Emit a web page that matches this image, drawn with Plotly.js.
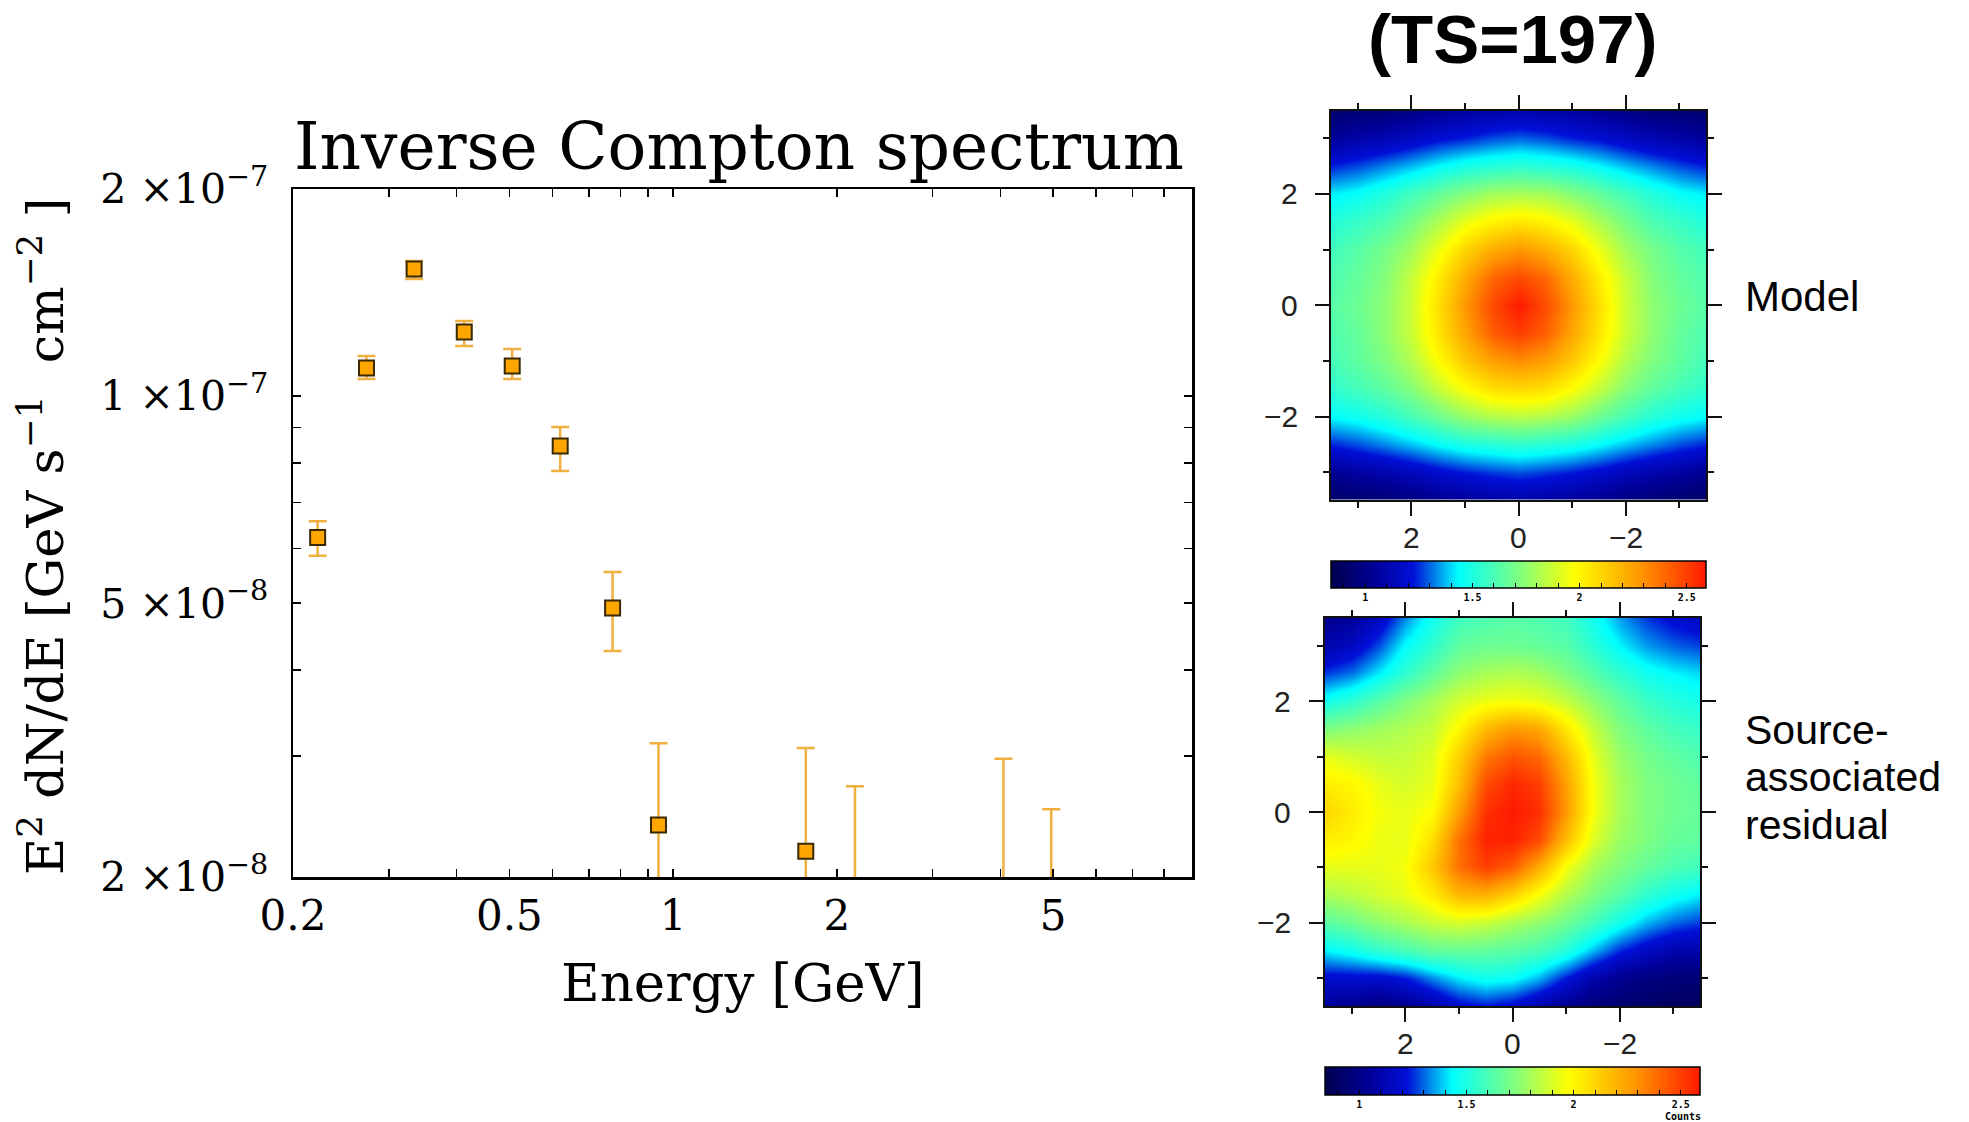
<!DOCTYPE html>
<html>
<head>
<meta charset="utf-8">
<script src="https://cdn.plot.ly/plotly-3.0.1.min.js"></script>
<style>html,body{margin:0;padding:0;background:#fff;}#chart{width:1969px;height:1122px;}</style>
</head>
<body>
<div id="chart"></div>
<script>
// ---- Spectrum data (GeV, GeV s^-1 cm^-2) ----
const energy    = [0.222, 0.273, 0.334, 0.413, 0.506, 0.62, 0.774, 0.94, 1.754];
const flux      = [6.23e-8, 1.099e-7, 1.53e-7, 1.239e-7, 1.106e-7, 8.46e-8, 4.92e-8, 2.38e-8, 2.18e-8];
const fluxHigh  = [6.58e-8, 1.144e-7, 1.572e-7, 1.286e-7, 1.171e-7, 9.02e-8, 5.55e-8, 3.13e-8, 3.08e-8];
const fluxLow   = [5.86e-8, 1.059e-7, 1.48e-7, 1.183e-7, 1.059e-7, 7.78e-8, 4.26e-8, 0, 0];
const ulEnergy  = [2.16, 4.05, 4.96];
const ulFlux    = [2.71e-8, 2.97e-8, 2.51e-8];

const xTickVals = [0.2,0.3,0.4,0.5,0.6,0.7,0.8,0.9,1,2,3,4,5,6,7,8,9];
const xTickText = ['0.2','','','0.5','','','','','1','2','','','5','','','',''];
const yTickVals = [2e-8,3e-8,4e-8,5e-8,6e-8,7e-8,8e-8,9e-8,1e-7,2e-7];
const yTickText = ['2 \u00d710<sup>\u22128</sup>','','','5 \u00d710<sup>\u22128</sup>','','','','','1 \u00d710<sup>\u22127</sup>','2 \u00d710<sup>\u22127</sup>'];

// ---- Maps (offsets in degrees, counts) ----
const mapX = [3.5,3.0,2.5,2.0,1.5,1.0,0.5,0,-0.5,-1.0,-1.5,-2.0,-2.5,-3.0,-3.5];
const mapY = [3.5,3.0,2.5,2.0,1.5,1.0,0.5,0,-0.5,-1.0,-1.5,-2.0,-2.5,-3.0,-3.5];
const modelZ = [
 [0.93,0.95,0.96,1.00,1.03,1.07,1.09,1.10,1.09,1.07,1.03,1.00,0.96,0.95,0.93],
 [1.05,1.09,1.12,1.16,1.21,1.24,1.28,1.30,1.28,1.24,1.21,1.16,1.12,1.09,1.05],
 [1.24,1.28,1.33,1.38,1.44,1.49,1.52,1.54,1.52,1.49,1.44,1.38,1.33,1.28,1.24],
 [1.42,1.45,1.51,1.58,1.66,1.73,1.79,1.80,1.79,1.73,1.66,1.58,1.51,1.45,1.42],
 [1.51,1.56,1.61,1.70,1.81,1.93,2.01,2.05,2.01,1.93,1.81,1.70,1.61,1.56,1.51],
 [1.58,1.63,1.70,1.79,1.94,2.10,2.22,2.28,2.22,2.10,1.94,1.79,1.70,1.63,1.58],
 [1.61,1.66,1.73,1.86,2.03,2.22,2.40,2.47,2.40,2.22,2.03,1.86,1.73,1.66,1.61],
 [1.63,1.68,1.75,1.87,2.07,2.28,2.47,2.59,2.47,2.28,2.07,1.87,1.75,1.68,1.63],
 [1.61,1.66,1.75,1.87,2.05,2.24,2.42,2.50,2.42,2.24,2.05,1.87,1.75,1.66,1.61],
 [1.59,1.65,1.72,1.82,1.98,2.14,2.26,2.31,2.26,2.14,1.98,1.82,1.72,1.65,1.59],
 [1.54,1.59,1.65,1.73,1.86,1.98,2.07,2.10,2.07,1.98,1.86,1.73,1.65,1.59,1.54],
 [1.44,1.47,1.52,1.59,1.68,1.77,1.82,1.84,1.82,1.77,1.68,1.59,1.52,1.47,1.44],
 [1.24,1.28,1.33,1.38,1.44,1.49,1.52,1.54,1.52,1.49,1.44,1.38,1.33,1.28,1.24],
 [1.03,1.07,1.10,1.14,1.19,1.23,1.26,1.28,1.26,1.23,1.19,1.14,1.10,1.07,1.03],
 [0.91,0.93,0.95,0.98,1.02,1.05,1.07,1.09,1.07,1.05,1.02,0.98,0.95,0.93,0.91]
];
const residualZ = [
 [1.02,1.05,1.16,1.33,1.47,1.58,1.61,1.63,1.61,1.58,1.47,1.35,1.26,1.20,1.16],
 [1.10,1.16,1.28,1.44,1.54,1.65,1.68,1.68,1.66,1.63,1.53,1.43,1.35,1.30,1.27],
 [1.26,1.31,1.42,1.54,1.65,1.75,1.80,1.82,1.79,1.72,1.63,1.54,1.47,1.43,1.40],
 [1.47,1.54,1.63,1.72,1.80,1.89,1.94,1.96,1.93,1.86,1.75,1.65,1.57,1.52,1.48],
 [1.72,1.75,1.79,1.82,1.86,2.00,2.19,2.28,2.24,2.05,1.86,1.72,1.65,1.59,1.56],
 [1.93,1.89,1.86,1.86,1.91,2.12,2.36,2.45,2.40,2.19,1.93,1.77,1.70,1.65,1.61],
 [2.03,2.00,1.93,1.89,1.93,2.17,2.47,2.56,2.50,2.26,1.96,1.80,1.72,1.68,1.65],
 [2.10,2.03,1.96,1.93,1.98,2.26,2.54,2.59,2.54,2.28,1.96,1.80,1.72,1.68,1.66],
 [2.03,2.00,1.94,1.93,2.07,2.38,2.57,2.57,2.47,2.17,1.91,1.77,1.72,1.66,1.65],
 [1.93,1.93,1.93,1.96,2.14,2.38,2.50,2.42,2.22,1.96,1.80,1.72,1.66,1.61,1.58],
 [1.80,1.84,1.89,1.93,2.03,2.19,2.21,2.10,1.96,1.82,1.72,1.63,1.54,1.47,1.42],
 [1.63,1.68,1.75,1.80,1.86,1.89,1.86,1.80,1.75,1.68,1.58,1.47,1.37,1.30,1.26],
 [1.42,1.47,1.54,1.59,1.65,1.66,1.65,1.63,1.59,1.51,1.37,1.24,1.16,1.10,1.09],
 [1.19,1.19,1.19,1.23,1.33,1.42,1.47,1.45,1.37,1.23,1.10,1.02,0.98,0.96,0.95],
 [1.05,1.02,0.98,1.02,1.09,1.19,1.23,1.19,1.10,1.02,0.96,0.93,0.91,0.89,0.88]
];
const countsMin = 0.84, countsMax = 2.59;
const cbTickVals = [0.9,1.0,1.1,1.2,1.3,1.4,1.5,1.6,1.7,1.8,1.9,2.0,2.1,2.2,2.3,2.4,2.5];
const cbTickText = ['','1','','','','','1.5','','','','','2','','','','','2.5'];
const mapTickVals = [-2,0,2];
const mapTickText = ['\u22122','0','2'];
const mapMinorVals = [-3,-1,1,3];

const jet = [[0,'#00004f'],[0.12,'#00009a'],[0.22,'#0010d8'],[0.34,'#00ffff'],[0.5,'#7dff82'],[0.65,'#ffff00'],[0.82,'#ff9a00'],[1,'#ff1a00']];

const errPlus  = fluxHigh.map((h,i)=>h-flux[i]);
const errMinus = fluxLow.map((l,i)=>flux[i]-l);

function cb(xc, ytop, thick){
  return {orientation:'h', x:xc, xanchor:'center', y:ytop, yanchor:'top',
   len:375, lenmode:'pixels', thickness:thick, thicknessmode:'pixels', xpad:0, ypad:0,
   outlinewidth:1.5, outlinecolor:'#000', tickmode:'array', tickvals:cbTickVals, ticktext:cbTickText,
   ticks:'inside', ticklen:5, tickcolor:'#000', tickwidth:1,
   tickfont:{size:10, family:'DejaVu Sans Mono', color:'#000', weight:'bold'}};
}

const traces = [
 {type:'scatter', mode:'markers', x:ulEnergy, y:ulFlux, xaxis:'x', yaxis:'y',
  marker:{opacity:0, size:4},
  error_y:{type:'data', symmetric:false, array:ulFlux.map(()=>0), arrayminus:ulFlux, color:'#f0b040', thickness:2.5, width:9},
  hoverinfo:'skip'},
 {type:'scatter', mode:'markers', x:energy, y:flux, xaxis:'x', yaxis:'y',
  marker:{symbol:'square', size:15, color:'#ffa500', line:{color:'#3a2800', width:2}},
  error_y:{type:'data', symmetric:false, array:errPlus, arrayminus:errMinus, color:'#f0b040', thickness:2.5, width:9}},
 {type:'heatmap', x:mapX, y:mapY, z:modelZ, xaxis:'x2', yaxis:'y2', zsmooth:'best',
  colorscale:jet, zmin:countsMin, zmax:countsMax, showscale:true, colorbar:cb(1518.5/1969, 1-561/1122, 27)},
 {type:'heatmap', x:mapX, y:mapY, z:residualZ, xaxis:'x3', yaxis:'y3', zsmooth:'best',
  colorscale:jet, zmin:countsMin, zmax:countsMax, showscale:true, colorbar:cb(1512.5/1969, 1-1067/1122, 28)}
];

function mapAxis(domain, anchor, range){
  return {domain:domain, anchor:anchor, range:range, autorange:false,
    tickmode:'array', tickvals:mapTickVals, showticklabels:false,
    ticks:'outside', ticklen:14, tickwidth:2, tickcolor:'#111',
    minor:{tickmode:'array', tickvals:mapMinorVals, ticks:'outside', ticklen:6, tickwidth:2, tickcolor:'#111'},
    showline:true, linewidth:2, linecolor:'#111', mirror:'ticks',
    showgrid:false, zeroline:false};
}

const labelFont = {family:'Liberation Sans', size:30, color:'#222'};
const mapLabels = [];
// [x-axis ref, y-axis ref, x-label centre (paper px), y-label right edge (paper px)]
[['x2','y2',537,1300],['x3','y3',1043,1293]].forEach(([xa,ya,xLabY,yLabX])=>{
  mapTickVals.forEach((v,i)=>{
    mapLabels.push({text:mapTickText[i], xref:xa, yref:'paper', x:v, y:1-xLabY/1122, xanchor:'center', yanchor:'middle', showarrow:false, font:labelFont});
    mapLabels.push({text:mapTickText[i], xref:'paper', yref:ya, x:yLabX/1969, y:v, xanchor:'right', yanchor:'middle', showarrow:false, font:labelFont});
  });
});

const layout = {
 width:1969, height:1122, margin:{l:0,r:0,t:0,b:0},
 paper_bgcolor:'#fff', plot_bgcolor:'rgba(0,0,0,0)', showlegend:false,
 font:{family:'DejaVu Serif', color:'#000'},
 xaxis:{type:'log', domain:[293/1969, 1192/1969], anchor:'y',
   range:[Math.log10(0.2), Math.log10(9)], autorange:false,
   tickmode:'array', tickvals:xTickVals, ticktext:xTickText,
   ticks:'inside', ticklen:8, tickwidth:1.5, tickcolor:'#000',
   showline:true, linewidth:2.5, linecolor:'#000', mirror:'ticks',
   showgrid:false, zeroline:false, ticklabelstandoff:0,
   tickfont:{family:'DejaVu Serif', size:42, color:'#000'}},
 yaxis:{type:'log', domain:[1-877/1122, 1-189/1122], anchor:'x',
   range:[Math.log10(2e-8), Math.log10(2e-7)], autorange:false,
   tickmode:'array', tickvals:yTickVals, ticktext:yTickText,
   ticks:'inside', ticklen:8, tickwidth:1.5, tickcolor:'#000',
   showline:true, linewidth:2.5, linecolor:'#000', mirror:'ticks',
   showgrid:false, zeroline:false, ticklabelstandoff:14,
   tickfont:{family:'DejaVu Serif', size:41, color:'#000'}},
 xaxis2:mapAxis([1331/1969, 1706/1969], 'y2', [3.5,-3.5]),
 yaxis2:mapAxis([1-500/1122, 1-110.5/1122], 'x2', [-3.5,3.5]),
 xaxis3:mapAxis([1325/1969, 1700/1969], 'y3', [3.5,-3.5]),
 yaxis3:mapAxis([1-1006/1122, 1-618/1122], 'x3', [-3.5,3.5]),
 annotations:[
  {text:'Inverse Compton spectrum', xref:'paper', yref:'paper', x:739/1969, y:1-147/1122, xanchor:'center', yanchor:'middle', showarrow:false, font:{family:'DejaVu Serif', size:64.5, color:'#000'}},
  {text:'Energy [GeV]', xref:'paper', yref:'paper', x:743/1969, y:1-982/1122, xanchor:'center', yanchor:'middle', showarrow:false, font:{family:'DejaVu Serif', size:53, color:'#000'}},
  {text:'E<sup>2</sup> dN/dE [GeV s<sup>\u22121</sup>  cm<sup>\u22122</sup> ]', xref:'paper', yref:'paper', x:42/1969, y:1-537/1122, xanchor:'center', yanchor:'middle', textangle:-90, showarrow:false, font:{family:'DejaVu Serif', size:51, color:'#000'}},
  {text:'<b>(TS=197)</b>', xref:'paper', yref:'paper', x:1513/1969, y:1-40/1122, xanchor:'center', yanchor:'middle', showarrow:false, font:{family:'Liberation Sans', size:69, color:'#000'}},
  {text:'Model', xref:'paper', yref:'paper', x:1743/1969, y:1-297/1122, xanchor:'left', yanchor:'middle', showarrow:false, font:{family:'Liberation Sans', size:42, color:'#000'}},
  {text:'Source-', xref:'paper', yref:'paper', x:1743/1969, y:1-730/1122, xanchor:'left', yanchor:'middle', showarrow:false, font:{family:'Liberation Sans', size:41, color:'#000'}},
  {text:'associated', xref:'paper', yref:'paper', x:1743/1969, y:1-777/1122, xanchor:'left', yanchor:'middle', showarrow:false, font:{family:'Liberation Sans', size:41, color:'#000'}},
  {text:'residual', xref:'paper', yref:'paper', x:1743/1969, y:1-825/1122, xanchor:'left', yanchor:'middle', showarrow:false, font:{family:'Liberation Sans', size:41, color:'#000'}},
  {text:'<b>Counts</b>', xref:'paper', yref:'paper', x:1683/1969, y:1-1116/1122, xanchor:'center', yanchor:'middle', showarrow:false, font:{family:'DejaVu Sans Mono', size:10, color:'#000'}}
 ].concat(mapLabels)
};

Plotly.newPlot('chart', traces, layout, {displayModeBar:false, staticPlot:true});
</script>
</body>
</html>
